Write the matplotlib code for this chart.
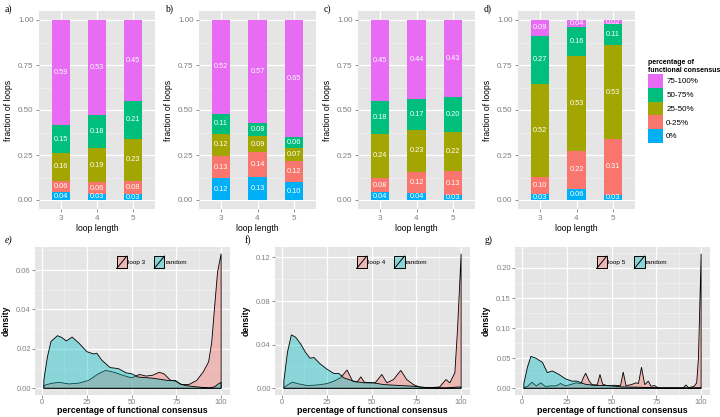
import matplotlib
matplotlib.use("Agg")
import matplotlib.pyplot as plt
import numpy as np
from matplotlib.patches import Rectangle, Patch
from matplotlib.lines import Line2D
from matplotlib.legend_handler import HandlerPatch
from matplotlib.ticker import FormatStrFormatter, MultipleLocator

plt.rcParams['font.family'] = ['Liberation Sans', 'DejaVu Sans']

# --- data: top row, fraction of loops per loop length (rows: loop 3, 4, 5)
loop_lengths = ['3', '4', '5']
categories = ['0%', '0-25%', '25-50%', '50-75%', '75-100%']
cat_colors = ['#00B0F6', '#F8766D', '#A3A500', '#00BF7D', '#E76BF3']

frac_a = [[0.044, 0.062, 0.157, 0.151, 0.586],
          [0.034, 0.064, 0.192, 0.180, 0.530],
          [0.031, 0.076, 0.231, 0.213, 0.449]]
frac_b = [[0.120, 0.126, 0.123, 0.110, 0.521],
          [0.128, 0.137, 0.088, 0.077, 0.570],
          [0.098, 0.121, 0.069, 0.062, 0.650]]
frac_c = [[0.042, 0.082, 0.243, 0.183, 0.450],
          [0.041, 0.117, 0.231, 0.172, 0.439],
          [0.028, 0.132, 0.218, 0.196, 0.426]]
frac_d = [[0.032, 0.097, 0.516, 0.267, 0.088],
          [0.059, 0.216, 0.526, 0.158, 0.041],
          [0.030, 0.307, 0.525, 0.114, 0.024]]

# --- data: bottom row, density of percentage of functional consensus
e_loop_x = [1, 3, 6, 9.5, 15, 20.5, 26, 31.5, 35.5, 40.7, 45, 50, 54.4, 58, 61.7, 65.4, 68,
            71.8, 74.5, 78, 82, 86.4, 90, 93, 94.7, 96.5, 98, 100]
e_loop_y = [0.0014, 0.002, 0.0026, 0.003, 0.0022, 0.0026, 0.004, 0.0074, 0.0091, 0.008, 0.0066,
            0.0053, 0.007, 0.0062, 0.0066, 0.0081, 0.0074, 0.004, 0.0036, 0.0019, 0.0019, 0.004,
            0.0083, 0.0134, 0.023, 0.0428, 0.059, 0.0683]
e_rand_x = [1, 3, 5, 8.6, 11, 13.5, 16.8, 20.5, 25, 28.8, 30.6, 33.3, 38, 42.5, 47, 50, 53.5,
            60.8, 65, 70, 74.5, 77, 80, 84.6, 90, 93.8, 96.5, 98.4, 100]
e_rand_y = [0.0043, 0.016, 0.0238, 0.0267, 0.0258, 0.024, 0.026, 0.023, 0.0186, 0.0174, 0.0178,
            0.0143, 0.0105, 0.010, 0.0078, 0.0074, 0.0057, 0.0052, 0.0047, 0.004, 0.004, 0.0022,
            0.0014, 0.0009, 0.0004, 0.0002, 0.0008, 0.0022, 0.003]

f_loop_x = [1, 3, 5.7, 9.4, 14, 19.6, 25.2, 28.9, 32.6, 36.3, 39.4, 41.9, 44, 45.9, 49.3, 52,
            55.7, 58.5, 62.2, 66.3, 69.6, 73.3, 77, 82.6, 88, 91.5, 93.7, 96.5, 98, 100]
f_loop_y = [0.0006, 0.003, 0.0056, 0.004, 0.0025, 0.003, 0.0043, 0.0065, 0.0096, 0.0167, 0.0065,
            0.0056, 0.0105, 0.0056, 0.005, 0.005, 0.0127, 0.005, 0.008, 0.0164, 0.008, 0.0034,
            0.001, 0.0006, 0.0012, 0.008, 0.005, 0.0143, 0.0546, 0.1234]
f_rand_x = [1, 3, 5.2, 7.6, 10.4, 13.1, 15.6, 17.8, 21.5, 25.2, 28.9, 31.7, 34.4, 40, 45.5, 51,
            56.7, 66, 73.3, 80.7, 91.8, 98.3, 100]
f_rand_y = [0.0065, 0.033, 0.049, 0.0468, 0.0406, 0.0329, 0.0276, 0.0282, 0.022, 0.0174, 0.0136,
            0.0136, 0.0096, 0.0065, 0.005, 0.005, 0.0034, 0.0025, 0.0019, 0.0006, 0.0003, 0.0012,
            0.001]

g_loop_x = [1, 3, 5.5, 8, 10.5, 13, 16, 19, 21.5, 24, 27, 30, 33, 34.2, 35.5, 37.5, 39, 42, 43.5,
            45, 48, 51, 55, 56.5, 58, 61, 63.5, 65, 66.7, 68.5, 70.5, 72, 74, 76, 85, 90, 91.5,
            93, 96, 97.5, 98.5, 100]
g_loop_y = [0.001, 0.003, 0.010, 0.004, 0.009, 0.003, 0.004, 0.004, 0.008, 0.004, 0.006, 0.009,
            0.008, 0.0175, 0.025, 0.012, 0.006, 0.0056, 0.023, 0.0068, 0.004, 0.005, 0.0045,
            0.027, 0.0045, 0.006, 0.009, 0.008, 0.035, 0.006, 0.0119, 0.0034, 0.0045, 0.0006,
            0.0005, 0.0005, 0.0056, 0.001, 0.003, 0.009, 0.05, 0.2237]
g_rand_x = [1, 3, 4.9, 7.7, 11.4, 14.1, 16.8, 20.5, 24.2, 27.8, 30.6, 35.2, 40.7, 48, 55.3,
            66.3, 77.3, 95.6, 100]
g_rand_y = [0.0079, 0.035, 0.053, 0.050, 0.043, 0.026, 0.0288, 0.0232, 0.0158, 0.0119, 0.0119,
            0.0068, 0.0045, 0.0045, 0.0023, 0.0017, 0.0006, 0.0006, 0.001]

W, H = 720, 417
fig = plt.figure(figsize=(W / 100, H / 100), dpi=100)


def px_axes(l, r, t, b):
    return fig.add_axes([l / W, 1 - b / H, (r - l) / W, (b - t) / H])


def style(ax, tsize, pad=1.5, tlen=2.5):
    ax.set_facecolor('#E5E5E5')
    for s in ax.spines.values():
        s.set_visible(False)
    ax.set_axisbelow(True)
    ax.grid(which='major', color='white', lw=0.9)
    ax.grid(which='minor', color='#F2F2F2', lw=0.45)
    ax.tick_params(which='major', length=tlen, width=0.6, color='#7F7F7F',
                   labelcolor='#7F7F7F', labelsize=tsize, pad=pad)
    ax.tick_params(which='minor', length=0)


class SlashHandler(HandlerPatch):
    def create_artists(self, legend, orig, xd, yd, w, h, fs, trans):
        r = Rectangle((-xd, -yd), w, h, facecolor=orig.get_facecolor(),
                      edgecolor='black', lw=0.7, transform=trans)
        l = Line2D([-xd, -xd + w], [-yd, -yd + h], color='black', lw=0.7, transform=trans)
        return [r, l]


# ---------------- top row: stacked bars
top_panels = [(frac_a, 39, 155, 'a)'), (frac_b, 199, 316, 'b)'),
              (frac_c, 358, 475, 'c)'), (frac_d, 518, 635, 'd)')]
for frac, l, r, letter in top_panels:
    ax = px_axes(l, r, 11, 209)
    style(ax, 5.8)
    xpos = np.arange(1, len(loop_lengths) + 1)
    for i, row in enumerate(frac):
        bottom = 0.0
        for j, v in enumerate(row):
            ax.bar(xpos[i], v, 0.5, bottom=bottom, color=cat_colors[j], lw=0)
            ax.text(xpos[i], bottom + v / 2, f'{v:.2f}', color='white', fontsize=5.3,
                    ha='center', va='center')
            bottom += v
    ax.set_xlim(0.4, 3.6)
    ax.set_ylim(-0.05, 1.05)
    ax.set_xticks(xpos)
    ax.set_xticklabels(loop_lengths)
    ax.yaxis.set_major_locator(MultipleLocator(0.25))
    ax.yaxis.set_minor_locator(MultipleLocator(0.125))
    ax.yaxis.set_major_formatter(FormatStrFormatter('%.2f'))
    ax.set_ylabel('fraction of loops', fontsize=6.2)
    ax.yaxis.set_label_coords(-26 / (r - l), 0.5)
    ax.set_xlabel('loop length', fontsize=6.2, labelpad=2)
    fig.text((l - 34) / W, 1 - 9 / H, letter, family='Liberation Serif', fontsize=7,
             va='center', ha='left')

handles = [Patch(facecolor=c, edgecolor='none') for c in cat_colors][::-1]
leg = fig.legend(handles, categories[::-1], loc='upper left',
                 bbox_to_anchor=(644 / W, 1 - 55 / H), frameon=False, fontsize=5.8,
                 title='percentage of\nfunctional consensus', borderpad=0, labelspacing=0,
                 handlelength=1.9, handleheight=2.25, handletextpad=0.35, alignment='left',
                 title_fontproperties={'weight': 'bold', 'size': 5.0})

# ---------------- bottom row: densities
bottom_panels = [(e_loop_x, e_loop_y, e_rand_x, e_rand_y, 35, 230, 'loop 3', 'e)', 0.02),
                 (f_loop_x, f_loop_y, f_rand_x, f_rand_y, 275, 470, 'loop 4', 'f)', 0.04),
                 (g_loop_x, g_loop_y, g_rand_x, g_rand_y, 515, 710, 'loop 5', 'g)', 0.05)]
pink = (248 / 255, 118 / 255, 109 / 255, 0.4)
teal = (0, 191 / 255, 196 / 255, 0.4)
for lx, ly, rx, ry, l, r, name, letter, step in bottom_panels:
    ax = px_axes(l, r, 247, 395)
    style(ax, 5.4, pad=1.0, tlen=2.0)
    for xs, ys, col in [(lx, ly, pink), (rx, ry, teal)]:
        xs = np.asarray(xs)
        ys = np.asarray(ys)
        ax.fill(np.r_[xs[0], xs, xs[-1]], np.r_[0, ys, 0], facecolor=col,
                edgecolor='black', lw=0.6)
    ymax = max(max(ly), max(ry))
    ax.set_xlim(1 - 0.05 * 99, 100 + 0.05 * 99)
    ax.set_ylim(-0.05 * ymax, 1.05 * ymax)
    ax.xaxis.set_major_locator(MultipleLocator(25))
    ax.xaxis.set_minor_locator(MultipleLocator(12.5))
    ax.yaxis.set_major_locator(MultipleLocator(step))
    ax.yaxis.set_minor_locator(MultipleLocator(step / 2))
    ax.yaxis.set_major_formatter(FormatStrFormatter('%.2f'))
    ax.set_xlabel('percentage of functional consensus', fontsize=6.3, weight='bold', labelpad=0)
    ax.set_ylabel('density', fontsize=6.2, weight='bold')
    ax.yaxis.set_label_coords(-24 / (r - l), 0.5)
    lh = [Patch(facecolor=pink), Patch(facecolor=teal)]
    ax.legend(lh, [name, 'random'], loc='upper center', bbox_to_anchor=(0.6, 0.96), ncol=2,
              frameon=False, fontsize=4.6, handlelength=1.6, handleheight=2.6,
              handletextpad=0.2, columnspacing=1.4, borderpad=0,
              handler_map={Patch: SlashHandler()})
    fig.text((l - 30) / W, 1 - 240 / H, letter, family='Liberation Serif', fontsize=7,
             va='center', ha='left', style='italic' if letter == 'e)' else 'normal')

fig.savefig('out.png', dpi=100)
